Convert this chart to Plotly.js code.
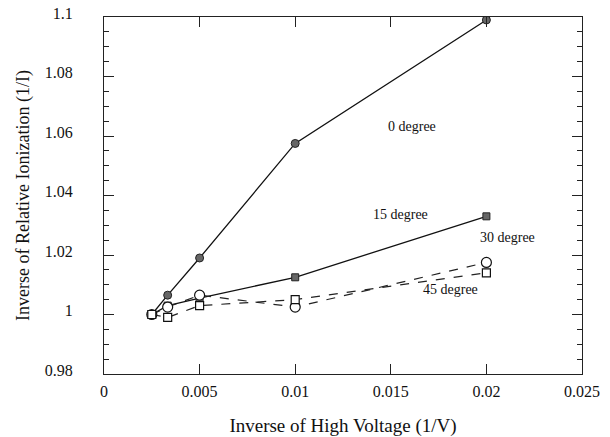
<!DOCTYPE html>
<html>
<head>
<meta charset="utf-8">
<script src="https://cdn.plot.ly/plotly-3.0.1.min.js"></script>
<style>html,body{margin:0;padding:0;background:#fff;}#chart{width:610px;height:437px;}</style>
</head>
<body>
<div id="chart"></div>
<script>
// Inverse of high voltage (1/V)
const invVoltage = [0.0025, 0.00333, 0.005, 0.01, 0.02];
// Inverse of relative ionization per angle
const deg0  = [1.000, 1.0065, 1.019, 1.0575, 1.099];
const deg15 = [1.000, 1.003, 1.0055, 1.0125, 1.033];
const deg30 = [1.000, 1.0025, 1.0065, 1.0025, 1.0175];
const deg45 = [1.000, 0.999, 1.003, 1.005, 1.014];
const seriesLabels = ["0 degree", "15 degree", "30 degree", "45 degree"];
const xTicks = [0, 0.005, 0.01, 0.015, 0.02, 0.025];
const xTickText = ["0", "0.005", "0.01", "0.015", "0.02", "0.025"];
const yTicks = [0.98, 1, 1.02, 1.04, 1.06, 1.08, 1.1];
const yTickText = ["0.98", "1", "1.02", "1.04", "1.06", "1.08", "1.1"];

const serif = "'Liberation Serif', 'Times New Roman', serif";

const traces = [
  {x: invVoltage, y: deg0, mode: "lines+markers", name: seriesLabels[0],
   line: {color: "#111", width: 1.3},
   marker: {symbol: "circle", size: 8, color: "#666", line: {color: "#222", width: 1}}},
  {x: invVoltage, y: deg15, mode: "lines+markers", name: seriesLabels[1],
   line: {color: "#111", width: 1.3},
   marker: {symbol: "square", size: 7, color: "#666", line: {color: "#222", width: 1}}},
  {x: invVoltage, y: deg30, mode: "lines+markers", name: seriesLabels[2],
   line: {color: "#222", width: 1.2, dash: "dash"},
   marker: {symbol: "circle", size: 10, color: "#fff", line: {color: "#111", width: 1.2}}},
  {x: invVoltage, y: deg45, mode: "lines+markers", name: seriesLabels[3],
   line: {color: "#222", width: 1.2, dash: "dash"},
   marker: {symbol: "square", size: 8, color: "#fff", line: {color: "#111", width: 1.2}}}
];

const layout = {
  width: 610, height: 437,
  margin: {l: 104, r: 28, t: 17, b: 63},
  paper_bgcolor: "#fff", plot_bgcolor: "#fff",
  showlegend: false,
  font: {family: serif, color: "#111", size: 16},
  xaxis: {
    range: [0, 0.025], tickvals: xTicks, ticktext: xTickText,
    ticks: "inside", ticklen: 10, tickwidth: 1, tickcolor: "#222",
    showline: true, linecolor: "#222", linewidth: 1, mirror: "ticks",
    showgrid: false, zeroline: false,
    ticklabelstandoff: 3,
    tickfont: {family: serif, size: 16},
    title: {text: "Inverse of High Voltage (1/V)", font: {family: serif, size: 19}, standoff: 20}
  },
  yaxis: {
    range: [0.98, 1.1], tickvals: yTicks, ticktext: yTickText,
    ticks: "inside", ticklen: 10, tickwidth: 1, tickcolor: "#222",
    showline: true, linecolor: "#222", linewidth: 1, mirror: "ticks",
    showgrid: false, zeroline: false,
    ticklabelstandoff: 27,
    ticklabelshift: -4,
    minor: {dtick: 0.005, ticks: "inside", ticklen: 5, tickcolor: "#222", showgrid: false},
    tickfont: {family: serif, size: 16},
    title: {text: "Inverse of Relative Ionization (1/I)", font: {family: serif, size: 18}, standoff: 10}
  },
  annotations: [
    {x: 0.0161, y: 1.0631, text: seriesLabels[0]},
    {x: 0.0155, y: 1.0336, text: seriesLabels[1]},
    {x: 0.0211, y: 1.026, text: seriesLabels[2]},
    {x: 0.0181, y: 1.0084, text: seriesLabels[3]}
  ].map(a => Object.assign(a, {xref: "x", yref: "y", showarrow: false,
     font: {family: serif, size: 14, color: "#111"}}))
};

Plotly.newPlot("chart", traces, layout, {displayModeBar: false, staticPlot: true});
</script>
</body>
</html>
